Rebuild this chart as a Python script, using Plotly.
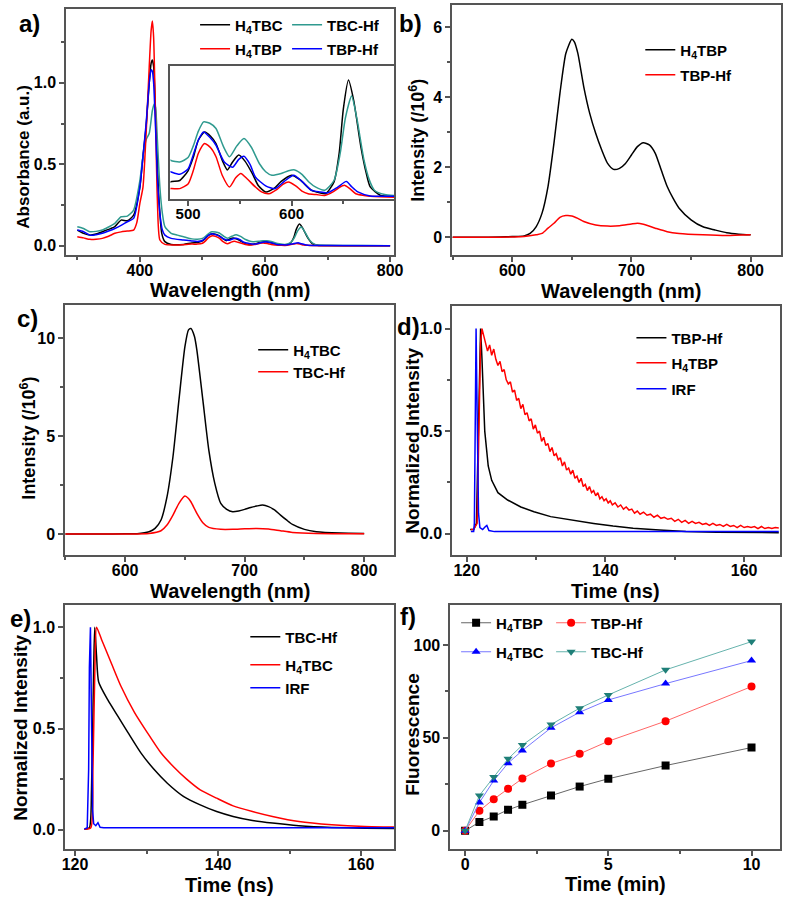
import plotly.graph_objects as go

W, H = 800, 903

# ---------------- Panel a: absorbance ----------------
a_wl_h4tbc = [300, 310, 320, 330, 340, 350, 360, 370, 380, 390, 400, 405, 410, 415, 418, 420, 422, 425, 430, 435, 440, 450, 470,
              483, 492, 500, 505, 510, 516, 522, 527, 533, 538, 543, 549, 555, 562, 568, 575, 583, 590, 600, 608, 619, 627, 633,
              641, 646, 650, 655, 660, 667, 672, 676, 686, 700, 750, 800]
a_abs_h4tbc = [0.096, 0.076, 0.065, 0.072, 0.086, 0.10, 0.117, 0.157, 0.153, 0.188, 0.36, 0.55, 0.73, 1.0, 1.12, 1.14, 1.10, 0.83, 0.32, 0.076, 0.025, 0.008, 0.008,
               0.0174, 0.019, 0.03, 0.045, 0.065, 0.074, 0.069, 0.061, 0.042, 0.031, 0.040, 0.048, 0.041, 0.027, 0.013, 0.006, 0.010, 0.018, 0.025, 0.020, 0.008, 0.005, 0.004,
               0.0174, 0.05, 0.10, 0.133, 0.11, 0.057, 0.028, 0.0117, 0.002, 0.001, 0.0, 0.0]

a_wl_tbchf = [300, 310, 320, 330, 340, 350, 360, 370, 380, 390, 400, 405, 410, 415, 420, 423, 425, 428, 432, 436, 440, 450, 460, 470,
              483, 492, 500, 505, 510, 515, 521, 527, 534, 540, 547, 554, 561, 569, 575, 581, 590, 597, 603, 610, 617, 623, 632,
              641, 647, 652, 658, 663, 670, 675, 680, 690, 699, 750, 800]
a_abs_tbchf = [0.117, 0.106, 0.086, 0.088, 0.096, 0.115, 0.137, 0.178, 0.182, 0.219, 0.40, 0.55, 0.65, 0.69, 0.83, 0.87, 0.85, 0.65, 0.36, 0.198, 0.117, 0.076, 0.065, 0.055,
               0.042, 0.040, 0.045, 0.058, 0.075, 0.0855, 0.084, 0.078, 0.058, 0.046, 0.058, 0.0666, 0.057, 0.038, 0.029, 0.025, 0.027, 0.030, 0.031, 0.026, 0.017, 0.0117, 0.008,
               0.019, 0.05, 0.09, 0.115, 0.09, 0.042, 0.02, 0.008, 0.003, 0.002, 0.001, 0.0]

a_wl_h4tbp = [300, 310, 320, 330, 340, 350, 360, 370, 380, 390, 395, 400, 405, 410, 415, 418, 420, 422, 425, 428, 432, 440, 460,
              483, 492, 500, 505, 510, 516, 522, 527, 533, 540, 546, 551, 557, 565, 571, 578, 586, 592, 597, 604, 610, 616, 624, 632,
              640, 646, 651, 656, 662, 670, 676, 700, 800]
a_abs_h4tbp = [0.055, 0.048, 0.039, 0.040, 0.045, 0.058, 0.076, 0.085, 0.09, 0.096, 0.14, 0.26, 0.36, 0.69, 1.10, 1.32, 1.38, 1.28, 0.79, 0.28, 0.035, 0.008, 0.005,
               0.0098, 0.0098, 0.015, 0.03, 0.05, 0.061, 0.056, 0.046, 0.025, 0.0117, 0.022, 0.027, 0.021, 0.0117, 0.006, 0.004, 0.009, 0.015, 0.0174, 0.013, 0.007, 0.004, 0.003, 0.002,
               0.006, 0.011, 0.0136, 0.010, 0.004, 0.002, 0.001, 0.0, 0.0]

a_wl_tbphf = [300, 310, 320, 330, 340, 350, 360, 370, 380, 390, 400, 405, 410, 415, 418, 420, 422, 425, 428, 432, 436, 440, 450, 470,
              483, 492, 500, 505, 510, 515, 521, 527, 535, 543, 549, 554, 560, 565, 575, 584, 593, 602, 610, 619, 627, 635,
              644, 653, 658, 664, 676, 700, 800]
a_abs_tbphf = [0.096, 0.086, 0.065, 0.068, 0.076, 0.09, 0.106, 0.125, 0.147, 0.168, 0.36, 0.55, 0.75, 1.0, 1.08, 1.07, 1.0, 0.73, 0.42, 0.198, 0.096, 0.065, 0.045, 0.035,
               0.029, 0.026, 0.032, 0.048, 0.065, 0.074, 0.068, 0.059, 0.040, 0.034, 0.043, 0.0465, 0.037, 0.023, 0.013, 0.0098, 0.018, 0.025, 0.018, 0.008, 0.006, 0.005,
               0.011, 0.018, 0.012, 0.006, 0.0015, 0.001, 0.0]

# ---------------- Panel b: emission H4TBP / TBP-Hf ----------------
b_wl_h4tbp = [550, 570, 590, 600, 610, 615, 620, 625, 630, 635, 640, 645, 650, 652, 655, 660, 665, 670, 675, 680, 685, 690, 695,
              700, 705, 710, 715, 720, 725, 730, 735, 740, 750, 760, 770, 780, 790, 800]
b_int_h4tbp = [0.0, 0.0, 0.01, 0.02, 0.04, 0.11, 0.3, 0.69, 1.45, 2.69, 4.11, 5.26, 5.66, 5.59, 5.26, 4.3, 3.54, 2.97, 2.5, 2.11, 1.94, 1.97, 2.11,
               2.35, 2.59, 2.70, 2.64, 2.4, 1.92, 1.45, 1.11, 0.83, 0.5, 0.30, 0.21, 0.13, 0.09, 0.07]
b_wl_tbphf = [550, 580, 600, 610, 620, 625, 630, 635, 640, 645, 650, 655, 660, 670, 680, 690, 700, 705, 710, 720, 730, 740, 760, 780, 800]
b_int_tbphf = [0.0, 0.0, 0.01, 0.02, 0.07, 0.11, 0.26, 0.40, 0.57, 0.62, 0.61, 0.54, 0.45, 0.35, 0.32, 0.33, 0.38, 0.40, 0.37, 0.26, 0.16, 0.11, 0.07, 0.05, 0.07]

# ---------------- Panel c: emission H4TBC / TBC-Hf ----------------
c_wl_h4tbc = [550, 580, 600, 610, 620, 625, 630, 635, 640, 645, 650, 653, 655, 658, 660, 665, 670, 675, 680, 685, 690, 695,
              700, 705, 710, 715, 720, 725, 730, 735, 740, 750, 760, 780, 800]
c_int_h4tbc = [0.0, 0.0, 0.01, 0.02, 0.12, 0.29, 0.72, 1.9, 3.95, 6.85, 9.57, 10.43, 10.5, 10.09, 9.4, 6.85, 4.29, 2.59, 1.57, 1.26, 1.14, 1.18,
               1.26, 1.36, 1.43, 1.48, 1.40, 1.23, 0.97, 0.72, 0.49, 0.24, 0.12, 0.05, 0.03]
c_wl_tbchf = [550, 600, 620, 630, 635, 640, 645, 650, 653, 655, 660, 665, 670, 680, 690, 700, 710, 720, 730, 740, 760, 800]
c_int_tbchf = [0.0, 0.0, 0.03, 0.17, 0.46, 0.97, 1.57, 1.94, 1.82, 1.65, 1.06, 0.58, 0.34, 0.24, 0.24, 0.27, 0.29, 0.26, 0.17, 0.085, 0.03, 0.02]

# ---------------- Panel d: decay TBP ----------------
d_t_tbphf = [120.5, 121.0, 121.4, 121.7, 121.9, 122.0, 122.2, 122.4, 122.6, 123.1, 123.6, 124.5, 125.9, 127.8, 129.7, 132.1, 135.0,
             138.3, 141.1, 144.0, 147.8, 151.6, 156.0, 160.0, 165.0]
d_i_tbphf = [0.02, 0.02, 0.05, 0.5, 0.95, 1.0, 0.85, 0.70, 0.50, 0.33, 0.26, 0.20, 0.164, 0.13, 0.107, 0.083, 0.067,
             0.05, 0.037, 0.026, 0.018, 0.01, 0.007, 0.005, 0.005]
d_t_h4tbp = [120.6, 121.0, 121.5, 121.8, 122.0, 122.2, 122.5, 122.8, 123.0, 123.3, 123.6, 123.9, 124.2, 124.5, 124.8, 125.1, 125.4, 125.7,
             126.0, 126.3, 126.6, 126.9, 127.2, 127.5, 127.8, 128.1, 128.4, 128.7, 129.0, 129.3, 129.6, 129.9, 130.2, 130.5, 130.8,
             131.1, 131.4, 131.7, 132.0, 132.3, 132.6, 132.9, 133.2, 133.5, 133.8, 134.1, 134.4, 134.7, 135.0, 135.3, 135.6, 135.9,
             136.2, 136.5, 136.8, 137.1, 137.4, 137.7, 138.0, 138.3, 138.6, 138.9, 139.2, 139.5, 139.8, 140.1, 140.4, 140.7, 141.0,
             141.4, 141.8, 142.2, 142.6, 143.0, 143.4, 143.8, 144.2, 144.6, 145.0, 145.5, 146.0, 146.5, 147.0, 147.5, 148.0, 148.5,
             149.0, 149.5, 150.0, 150.5, 151.0, 151.5, 152.0, 152.5, 153.0, 153.5, 154.0, 154.5, 155.0, 155.5, 156.0, 156.5, 157.0,
             157.5, 158.0, 158.5, 159.0, 159.5, 160.0, 160.5, 161.0, 161.5, 162.0, 162.5, 163.0, 163.5, 164.0, 164.5, 165.0]
d_i_h4tbp = [0.02, 0.02, 0.05, 0.6, 0.93, 1.0, 0.96, 0.93, 0.89, 0.92, 0.87, 0.90, 0.85, 0.82, 0.84, 0.79, 0.80, 0.75,
             0.73, 0.74, 0.69, 0.70, 0.65, 0.66, 0.61, 0.63, 0.58, 0.59, 0.55, 0.56, 0.51, 0.53, 0.49, 0.50, 0.45,
             0.47, 0.43, 0.44, 0.40, 0.42, 0.38, 0.39, 0.36, 0.37, 0.33, 0.35, 0.31, 0.32, 0.29, 0.31, 0.27, 0.28,
             0.25, 0.27, 0.23, 0.24, 0.21, 0.23, 0.20, 0.21, 0.185, 0.20, 0.17, 0.18, 0.16, 0.17, 0.15, 0.16, 0.14,
             0.15, 0.13, 0.14, 0.12, 0.13, 0.115, 0.12, 0.10, 0.11, 0.095, 0.105, 0.09, 0.095, 0.08, 0.09, 0.075, 0.08,
             0.07, 0.075, 0.06, 0.07, 0.055, 0.065, 0.05, 0.06, 0.05, 0.055, 0.045, 0.05, 0.04, 0.05, 0.04, 0.045, 0.035,
             0.045, 0.035, 0.04, 0.03, 0.04, 0.03, 0.035, 0.03, 0.035, 0.025, 0.035, 0.025, 0.03, 0.025, 0.03, 0.028]
d_t_irf = [120.6, 121.0, 121.1, 121.2, 121.35, 121.5, 121.7, 121.9, 122.3, 122.7, 122.9, 123.2, 124.0, 130.0, 140.0, 150.0, 160.0, 165.0]
d_i_irf = [0.01, 0.01, 0.05, 0.5, 1.0, 0.6, 0.1, 0.03, 0.02, 0.035, 0.04, 0.015, 0.01, 0.01, 0.01, 0.01, 0.01, 0.01]

# ---------------- Panel e: decay TBC ----------------
e_t_tbchf = [121.3, 122.0, 122.3, 122.6, 122.75, 123.0, 123.3, 124.6, 126.0, 127.4, 129.2, 131.0, 132.9, 135.2, 137.5, 139.8,
             142.1, 144.8, 147.6, 151.3, 155.9, 160.5, 165.0]
e_i_tbchf = [0.003, 0.01, 0.2, 0.8, 1.0, 0.86, 0.73, 0.64, 0.56, 0.48, 0.38, 0.30, 0.23, 0.164, 0.123, 0.09,
             0.066, 0.046, 0.033, 0.02, 0.0115, 0.008, 0.0066]
e_t_h4tbc = [121.3, 122.2, 122.5, 122.8, 123.0, 123.7, 125.1, 126.4, 128.3, 130.1, 132.0, 133.8, 135.6, 137.5, 139.8, 142.1,
             144.8, 147.6, 151.3, 155.9, 160.5, 165.0]
e_i_h4tbc = [0.003, 0.01, 0.3, 0.85, 1.0, 0.94, 0.82, 0.71, 0.58, 0.48, 0.38, 0.31, 0.25, 0.197, 0.156, 0.118,
             0.09, 0.066, 0.041, 0.025, 0.016, 0.013]
e_t_irf = [121.3, 121.7, 121.9, 122.0, 122.15, 122.3, 122.45, 122.6, 122.9, 123.2, 123.5, 124.0, 130.0, 140.0, 150.0, 160.0, 165.0]
e_i_irf = [0.003, 0.01, 0.3, 0.8, 1.0, 0.6, 0.1, 0.03, 0.02, 0.035, 0.012, 0.01, 0.01, 0.008, 0.01, 0.008, 0.01]

# ---------------- Panel f: fluorescence vs time ----------------
f_time = [0, 0.5, 1, 1.5, 2, 3, 4, 5, 7, 10]
f_h4tbp = [0, 4.7, 7.7, 11.3, 14.0, 19.0, 23.8, 28.0, 35.1, 44.8]
f_tbphf = [0, 10.8, 17.0, 22.6, 28.1, 36.2, 41.4, 48.2, 59.0, 77.6]
f_h4tbc = [0, 15.2, 27.0, 36.4, 43.2, 55.4, 63.8, 70.4, 79.2, 91.6]
f_tbchf = [0, 19.0, 28.9, 38.7, 46.1, 57.2, 66.0, 73.1, 86.6, 101.8]

FONT = "Liberation Sans, Arial, sans-serif"
FRAME = "#555555"
BLACK = "#000000"
RED = "#ff0000"
BLUE = "#0000ff"
TEAL = "#2f9a8f"


def PX(x):
    return x / W


def PY(y):
    return 1 - y / H


fig = go.Figure()


def line(x, y, name, color, ax, legend=None, width=1.5, shape="spline", showlegend=True):
    fig.add_trace(go.Scatter(
        x=x, y=y, mode="lines", name=name,
        line=dict(color=color, width=width, shape=shape, smoothing=0.6),
        xaxis="x" + ax, yaxis="y" + ax, legend=legend, showlegend=showlegend,
        hoverinfo="skip"))


H4TBC = "H<sub>4</sub>TBC"
H4TBP = "H<sub>4</sub>TBP"

# panel a main
line(a_wl_h4tbc, a_abs_h4tbc, H4TBC, BLACK, "", legend="legend")
line(a_wl_tbchf, a_abs_tbchf, "TBC-Hf", TEAL, "", legend="legend")
line(a_wl_h4tbp, a_abs_h4tbp, H4TBP, RED, "", legend="legend2")
line(a_wl_tbphf, a_abs_tbphf, "TBP-Hf", BLUE, "", legend="legend2")
# panel a inset
line(a_wl_h4tbc, a_abs_h4tbc, H4TBC, BLACK, "7", showlegend=False)
line(a_wl_tbchf, a_abs_tbchf, "TBC-Hf", TEAL, "7", showlegend=False)
line(a_wl_h4tbp, a_abs_h4tbp, H4TBP, RED, "7", showlegend=False)
line(a_wl_tbphf, a_abs_tbphf, "TBP-Hf", BLUE, "7", showlegend=False)
# panel b
line(b_wl_h4tbp, b_int_h4tbp, H4TBP, BLACK, "2", legend="legend3")
line(b_wl_tbphf, b_int_tbphf, "TBP-Hf", RED, "2", legend="legend4")
# panel c
line(c_wl_h4tbc, c_int_h4tbc, H4TBC, BLACK, "3", legend="legend5")
line(c_wl_tbchf, c_int_tbchf, "TBC-Hf", RED, "3", legend="legend6")
# panel d
line(d_t_tbphf, d_i_tbphf, "TBP-Hf", BLACK, "4", legend="legend7", shape="linear")
line(d_t_h4tbp, d_i_h4tbp, H4TBP, RED, "4", legend="legend8", shape="linear")
line(d_t_irf, d_i_irf, "IRF", BLUE, "4", legend="legend9", shape="linear")
# panel e
line(e_t_tbchf, e_i_tbchf, "TBC-Hf", BLACK, "5", legend="legend10")
line(e_t_h4tbc, e_i_h4tbc, H4TBC, RED, "5", legend="legend11")
line(e_t_irf, e_i_irf, "IRF", BLUE, "5", legend="legend12", shape="linear")


def marker_line(y, name, color, lcolor, symbol, legend):
    fig.add_trace(go.Scatter(
        x=f_time, y=y, mode="lines+markers", name=name,
        line=dict(color=lcolor, width=1),
        marker=dict(symbol=symbol, size=8, color=color),
        xaxis="x6", yaxis="y6", legend=legend, hoverinfo="skip"))


marker_line(f_h4tbp, H4TBP, BLACK, "#666666", "square", "legend13")
marker_line(f_tbphf, "TBP-Hf", RED, "#ff6666", "circle", "legend13")
marker_line(f_h4tbc, H4TBC, BLUE, "#7777ff", "triangle-up", "legend14")
marker_line(f_tbchf, "TBC-Hf", "#1f7f78", "#66b3ad", "triangle-down", "legend14")


def axis(x0, x1, rng, dtick, minor, fmt=None, anchor=None, labels=True, ticks="outside", size=16, standoff=0):
    d = dict(domain=[x0, x1], range=rng, dtick=dtick, tick0=0, showline=True, linecolor=FRAME,
             linewidth=1.5, mirror=True, ticks=ticks, ticklen=5, tickwidth=1.5, tickcolor=FRAME,
             showticklabels=labels, ticklabelstandoff=standoff,
             tickfont=dict(family=FONT, size=size, color="black", weight="bold"),
             showgrid=False, zeroline=False, fixedrange=True)
    if minor:
        d["minor"] = dict(ticks="outside", ticklen=3, tickwidth=1.5, tickcolor=FRAME, dtick=minor,
                          tick0=0, showgrid=False)
    if fmt:
        d["tickformat"] = fmt
    if anchor:
        d["anchor"] = anchor
    return d


XS = -5  # pull x tick labels slightly toward the axis

layout = dict(
    width=W, height=H, margin=dict(l=0, r=0, t=0, b=0),
    paper_bgcolor="white", plot_bgcolor="white",
    font=dict(family=FONT, color="black"),
    xaxis=axis(PX(64), PX(397), [282, 806.3], 200, 100, anchor="y", standoff=XS),
    yaxis=axis(PY(255), PY(9), [-0.057, 1.453], 0.5, 0.25, fmt=".1f", anchor="x"),
    xaxis2=axis(PX(456), PX(790), [549.6, 825.6], 100, 50, anchor="y2", standoff=XS),
    yaxis2=axis(PY(255), PY(5), [-0.506, 6.637], 2, 1, anchor="x2"),
    xaxis3=axis(PX(63), PX(397), [549.7, 825.0], 100, 50, anchor="y3", standoff=XS),
    yaxis3=axis(PY(555), PY(305), [-1.07, 11.7], 5, 2.5, anchor="x3"),
    xaxis4=axis(PX(456), PX(789), [117.9, 165.2], 20, 10, anchor="y4", standoff=XS),
    yaxis4=axis(PY(555), PY(306), [-0.104, 1.11], 0.5, 0.25, fmt=".1f", anchor="x4"),
    xaxis5=axis(PX(63), PX(397), [118.6, 164.6], 20, 10, anchor="y5", standoff=XS),
    yaxis5=axis(PY(849), PY(605), [-0.095, 1.11], 0.5, 0.25, fmt=".1f", anchor="x5"),
    xaxis6=axis(PX(454), PX(789), [-0.52, 11.0], 5, 2.5, anchor="y6", standoff=XS),
    yaxis6=axis(PY(849), PY(605), [-9.8, 121.5], 50, 25, anchor="x6"),
    xaxis7=axis(PX(170), PX(397), [483, 699], 100, 50, anchor="y7", size=15, standoff=XS),
    yaxis7=axis(PY(199), PY(66), [-0.002, 0.149], 0.05, None, anchor="x7", labels=False, ticks=""),
)


def leg(xpx, ypx, orientation="v", entrywidth=None):
    d = dict(x=PX(xpx), y=PY(ypx), xanchor="left", yanchor="middle", orientation=orientation,
             bgcolor="rgba(0,0,0,0)", borderwidth=0, itemwidth=30, tracegroupgap=0,
             font=dict(family=FONT, size=15, color="black", weight="bold"),
             itemclick=False, itemdoubleclick=False)
    if entrywidth:
        d["entrywidth"] = entrywidth
        d["entrywidthmode"] = "pixels"
    return d


layout["legend"] = leg(195, 25, "h", 47)
layout["legend2"] = leg(195, 49, "h", 47)
layout["legend3"] = leg(647, 50)
layout["legend4"] = leg(647, 75)
layout["legend5"] = leg(254, 350)
layout["legend6"] = leg(254, 372)
layout["legend7"] = leg(638, 338)
layout["legend8"] = leg(638, 363)
layout["legend9"] = leg(638, 389)
layout["legend10"] = leg(246, 637)
layout["legend11"] = leg(246, 665)
layout["legend12"] = leg(246, 688)
layout["legend13"] = leg(460, 623, "h", 50)
layout["legend14"] = leg(460, 652, "h", 50)

fig.update_layout(**layout)


def note(text, x, y, size=20, angle=0):
    fig.add_annotation(text=text, x=PX(x), y=PY(y), xref="paper", yref="paper",
                       xanchor="center", yanchor="middle", showarrow=False, textangle=angle,
                       font=dict(family=FONT, size=size, color="black", weight="bold"))


# axis titles
note("Wavelength (nm)", 230, 290)
note("Absorbance (a.u.)", 20, 157, size=17, angle=-90)
note("Wavelength (nm)", 627, 291)
note("Intensity (/10<sup>6</sup>)", 420, 140, size=18, angle=-90)
note("Wavelength (nm)", 230, 591)
note("Intensity (/10<sup>6</sup>)", 25, 438, size=18, angle=-90)
note("Time (ns)", 622, 591)
note("Normalized Intensity", 415, 441, size=19, angle=-90)
note("Time (ns)", 230, 885)
note("Normalized Intensity", 17, 728, size=19, angle=-90)
note("Time (min)", 622, 884)
note("Fluorescence", 415, 734, size=19, angle=-90)

# panel letters
note("a)", 27, 24, size=24)
note("b)", 414, 24, size=24)
note("c)", 25, 318, size=24)
note("d)", 412, 326, size=24)
note("e)", 18, 618, size=24)
note("f)", 411, 616, size=24)

fig.write_html("out.html", config={"displayModeBar": False},
               post_script="document.body.style.margin='0px';document.body.style.overflow='hidden';")
